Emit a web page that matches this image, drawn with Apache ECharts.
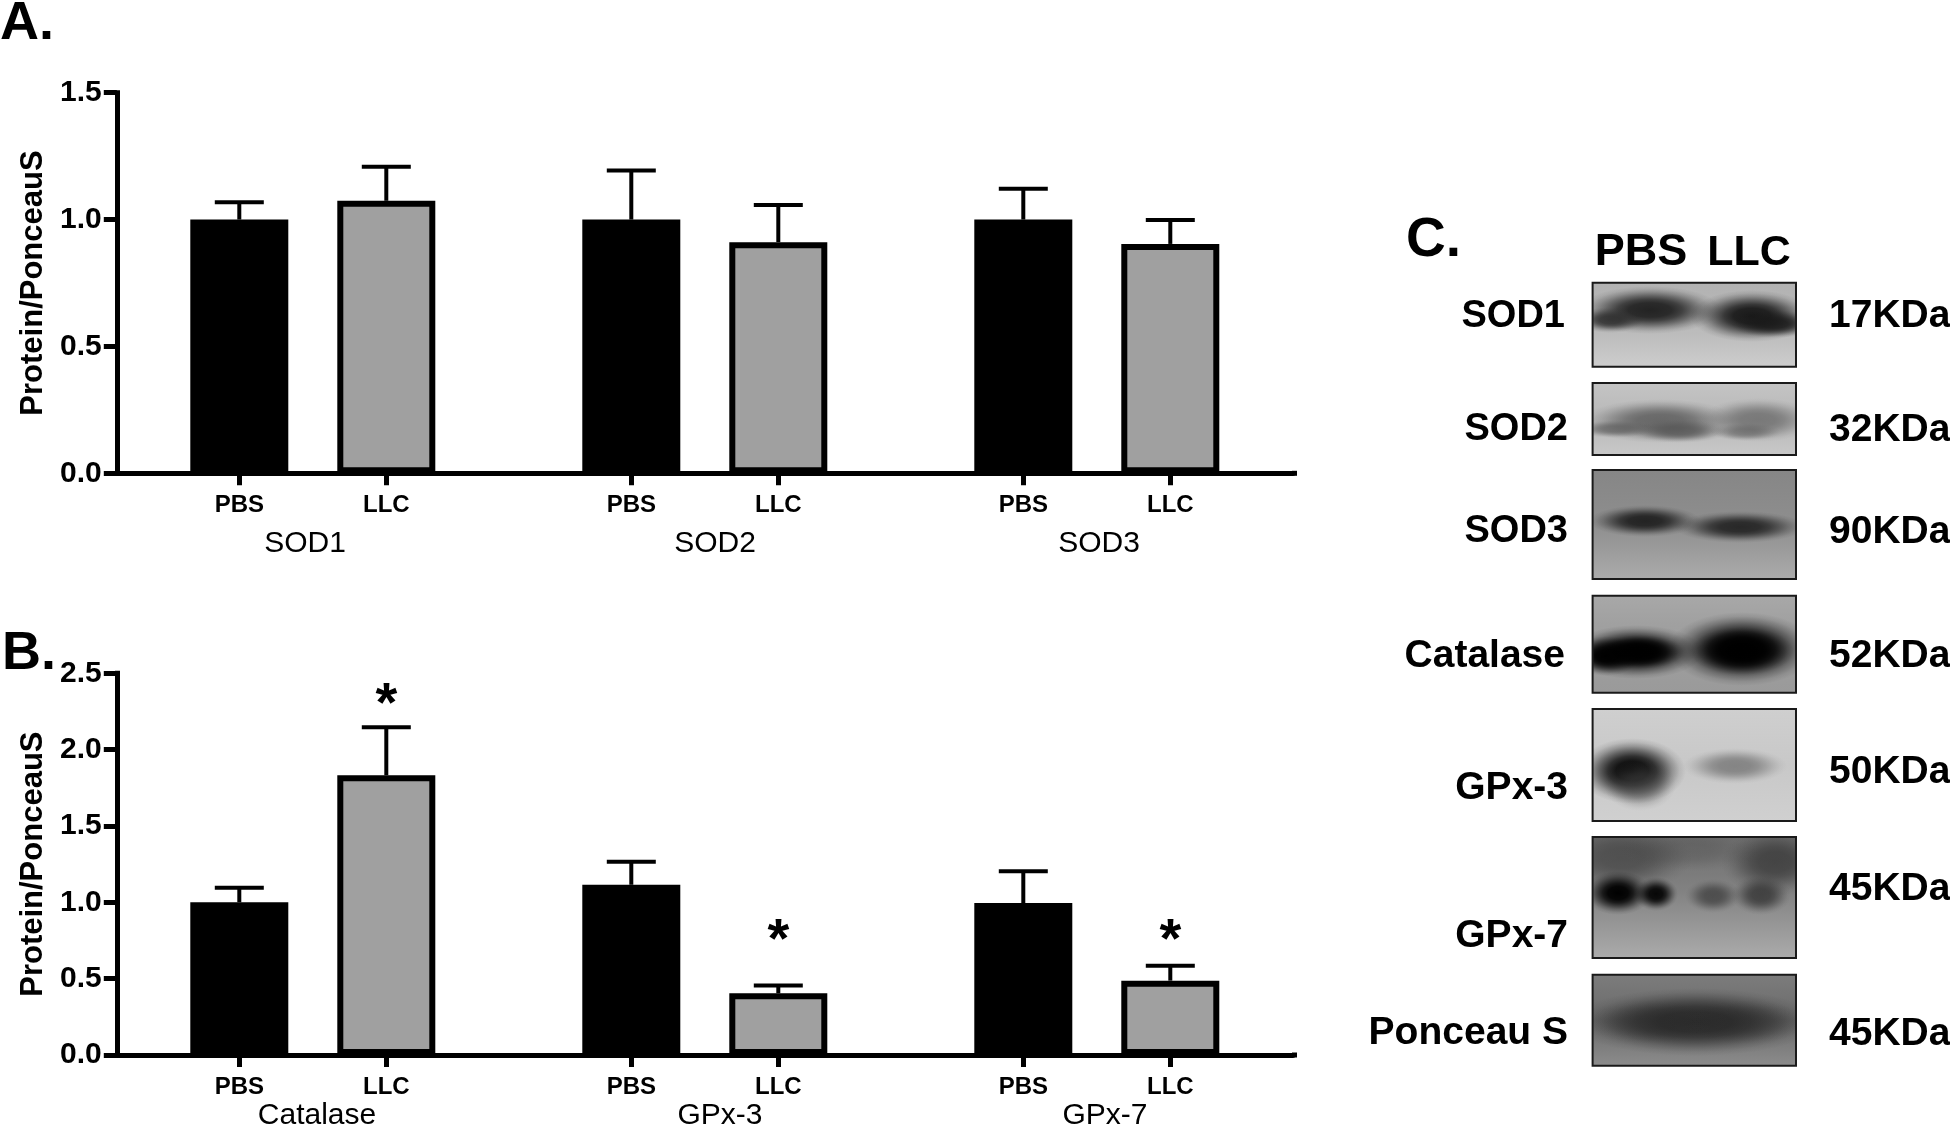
<!DOCTYPE html>
<html><head><meta charset="utf-8">
<style>html,body{margin:0;padding:0;background:#fff}#c{width:1950px;height:1125px}</style>
<script src="https://cdn.jsdelivr.net/npm/echarts@6/dist/echarts.min.js"></script>
</head><body><div id="c"></div>
<script>
// ---- data ----
var categories = ['','','PBS','','','LLC','','','','','PBS','','','LLC','','','','','PBS','','','LLC','',''];
var yTicksA = ['0.0','0.5','1.0','1.5'];
var yTicksB = ['0.0','0.5','1.0','1.5','2.0','2.5'];
var groupsA = ['SOD1','SOD2','SOD3'];
var groupsB = ['Catalase','GPx-3','GPx-7'];
var meansA_PBS = [1.0, 1.0, 1.0];
var upperA_PBS = [1.068, 1.193, 1.121];
var meansA_LLC = [1.074, 0.911, 0.904];
var upperA_LLC = [1.208, 1.057, 0.998];
var meansB_PBS = [1.0, 1.115, 0.995];
var upperB_PBS = [1.095, 1.266, 1.203];
var meansB_LLC = [1.832, 0.404, 0.487];
var upperB_LLC = [2.146, 0.456, 0.585];
var starsB_LLC = [2.29, 0.74, 0.74];
var blotLabels = ['SOD1','SOD2','SOD3','Catalase','GPx-3','GPx-7','Ponceau S'];
var blotSizes = ['17KDa','32KDa','90KDa','52KDa','50KDa','45KDa','45KDa'];

// ---- helpers ----
var FONT = '"Liberation Sans", Arial, sans-serif';
function slots(name){var r=[];categories.forEach(function(c,i){if(c===name)r.push(i)});return r;}
function column(name,vals){var r=categories.map(function(){return null});slots(name).forEach(function(s,i){r[s]=vals[i]});return r;}
function errData(name,m,u){return slots(name).map(function(s,i){return [s,m[i],u[i]]});}
function errRender(params,api){
  var p0=api.coord([api.value(0),api.value(1)]),p1=api.coord([api.value(0),api.value(2)]);
  return {type:'group',children:[
    {type:'line',shape:{x1:p0[0],y1:p0[1],x2:p0[0],y2:p1[1]},style:{stroke:'#000',lineWidth:4}},
    {type:'line',shape:{x1:p0[0]-24.5,y1:p1[1],x2:p0[0]+24.5,y2:p1[1]},style:{stroke:'#000',lineWidth:4}}
  ]};
}
function starRender(params,api){
  var p=api.coord([api.value(0),api.value(1)]);
  return {type:'text',style:{x:p[0],y:p[1],text:'*',font:'bold 56px '+FONT,fill:'#000',textAlign:'center',textVerticalAlign:'middle'}};
}
function xAx(g){return {type:'category',gridIndex:g,data:categories,z:3,
  axisLine:{show:true,onZero:false,lineStyle:{color:'#000',width:5}},
  axisTick:{show:true,alignWithLabel:true,length:12,lineStyle:{color:'#000',width:5},interval:function(i,v){return v!==''}},
  axisLabel:{show:true,interval:function(i,v){return v!==''},margin:20,fontFamily:FONT,fontWeight:'bold',fontSize:24,color:'#000'},
  splitLine:{show:false}};}
function yAx(g,max,ticks){return {type:'value',gridIndex:g,min:0,max:max,interval:0.5,z:3,
  axisLine:{show:true,lineStyle:{color:'#000',width:5,cap:'square'}},
  axisTick:{show:true,length:13,lineStyle:{color:'#000',width:5}},
  axisLabel:{margin:15,fontFamily:FONT,fontWeight:'bold',fontSize:30,color:'#000',formatter:function(v){return ticks[Math.round(v/0.5)]}},
  splitLine:{show:false},
  name:'Protein/PonceauS',nameLocation:'middle',nameGap:61,
  nameTextStyle:{fontFamily:FONT,fontWeight:'bold',fontSize:31,color:'#000'}};}
function panel(g,mP,uP,mL,uL){
  return [
   {name:'PBS',type:'bar',xAxisIndex:g,yAxisIndex:g,data:column('PBS',mP),barWidth:98,barGap:'-100%',z:2,itemStyle:{color:'#000'}},
   {name:'LLC',type:'bar',xAxisIndex:g,yAxisIndex:g,data:column('LLC',mL),barWidth:98,barGap:'-100%',z:2,itemStyle:{color:'#a0a0a0',borderColor:'#000',borderWidth:6}},
   {type:'custom',xAxisIndex:g,yAxisIndex:g,renderItem:errRender,data:errData('PBS',mP,uP),z:1,encode:{x:0,y:[1,2]}},
   {type:'custom',xAxisIndex:g,yAxisIndex:g,renderItem:errRender,data:errData('LLC',mL,uL),z:1,encode:{x:0,y:[1,2]}}
  ];
}
var series=panel(0,meansA_PBS,upperA_PBS,meansA_LLC,upperA_LLC).concat(panel(1,meansB_PBS,upperB_PBS,meansB_LLC,upperB_LLC));
series.push({type:'custom',xAxisIndex:1,yAxisIndex:1,renderItem:starRender,z:4,
  data:slots('LLC').map(function(s,i){return [s,starsB_LLC[i]]}),encode:{x:0,y:1}});

// ---- graphic layer: text and the western-blot panel ----
var g=[];
function txt(x,y,t,font,align){g.push({type:'text',z:20,style:{x:x,y:y,text:t,font:font,fill:'#000',textAlign:align||'left',textVerticalAlign:'middle'}});}
g.push({type:'rect',z:20,shape:{x:1292,y:470.8,width:5,height:5},style:{fill:'#000'}});
g.push({type:'rect',z:20,shape:{x:1292,y:1052.5,width:5,height:5},style:{fill:'#000'}});
var grpXA=[305,715,1099],grpXB=[317,720,1105];
groupsA.forEach(function(t,i){txt(grpXA[i],544,t,'30px '+FONT,'center')});
groupsB.forEach(function(t,i){txt(grpXB[i],1116,t,'30px '+FONT,'center')});
txt(0,24,'A.','bold 54px '+FONT);
txt(2,654,'B.','bold 54px '+FONT);
txt(1406,241,'C.','bold 55px '+FONT);
txt(1641,253,'PBS','bold 45px '+FONT,'center');
txt(1749,253,'LLC','bold 43px '+FONT,'center');

var BX=1592.6,BW=203.4;
var frames=[[282.7,366.7],[383,455],[470,579],[595.7,692.7],[709,821],[837,958],[974.7,1065.7]];
var bgs=[[[0,'#b2b2b2'],[0.6,'#bcbcbc'],[1,'#cdcdcd']],
         [[0,'#c4c4c4'],[0.5,'#b8b8b8'],[1,'#c8c8c8']],
         [[0,'#868686'],[0.5,'#8e8e8e'],[1,'#ababab']],
         [[0,'#a8a8a8'],[0.3,'#a0a0a0'],[1,'#9a9a9a']],
         [[0,'#cfcfcf'],[0.5,'#c8c8c8'],[1,'#d0d0d0']],
         [[0,'#6e6e6e'],[0.45,'#828282'],[1,'#ababab']],
         [[0,'#7c7c7c'],[0.5,'#6a6a6a'],[1,'#8c8c8c']]];
// [cx, cy, rx, ry, colour rgb, alpha]
var bands=[
 [[1650,310,72,24,'35,35,35',1],[1610,320,34,13,'45,45,45',0.9],[1752,316,62,26,'25,25,25',1],[1775,324,44,14,'25,25,25',0.9]],
 [[1660,421,78,22,'90,90,90',0.85],[1680,431,48,12,'85,85,85',0.8],[1615,429,40,9,'90,90,90',0.7],[1758,420,58,22,'105,105,105',0.8],[1745,432,36,9,'95,95,95',0.6]],
 [[1645,521,56,16,'35,35,35',1],[1740,527,66,16,'40,40,40',1]],
 [[1636,652,68,27,'0,0,0',1],[1742,649,74,37,'0,0,0',1],[1606,656,34,20,'0,0,0',1],[1640,652,44,17,'0,0,0',1],[1742,651,52,24,'0,0,0',1]],
 [[1632,771,54,33,'10,10,10',1],[1640,785,36,26,'70,70,70',0.55],[1735,766,52,18,'125,125,125',0.9]],
 [[1622,858,70,34,'50,50,50',0.55],[1775,862,54,34,'35,35,35',0.6],[1690,850,70,22,'60,60,60',0.25],
  [1618,893,34,22,'0,0,0',1],[1656,894,22,17,'0,0,0',0.95],[1713,896,28,17,'60,60,60',0.75],[1761,895,30,20,'50,50,50',0.8]],
 [[1695,1022,125,34,'40,40,40',0.95],[1650,1022,60,22,'40,40,40',0.3],[1745,1022,60,22,'40,40,40',0.3]]
];
function blob(b){
  var rgb=b[4],a=b[5];
  function s(o,f){return {offset:o,color:'rgba('+rgb+','+(a*f)+')'};}
  return {type:'circle',z:6,x:b[0],y:b[1],scaleX:b[2]/b[3],scaleY:1,shape:{cx:0,cy:0,r:b[3]},
    style:{fill:{type:'radial',x:0.5,y:0.5,r:0.5,colorStops:[s(0,1),s(0.3,0.95),s(0.45,0.8),s(0.6,0.55),s(0.75,0.28),s(0.88,0.09),s(1,0)]}}};
}
frames.forEach(function(f,i){
  g.push({type:'rect',z:5,shape:{x:BX,y:f[0],width:BW,height:f[1]-f[0]},
    style:{fill:{type:'linear',x:0,y:0,x2:0,y2:1,colorStops:bgs[i].map(function(c){return {offset:c[0],color:c[1]}})}}});
  bands[i].forEach(function(b){g.push(blob(b))});
});
// white masks keep the soft bands inside their frames
g.push({type:'rect',z:7,shape:{x:1520,y:270,width:BX-1520,height:810},style:{fill:'#fff'}});
g.push({type:'rect',z:7,shape:{x:BX+BW,y:270,width:60,height:810},style:{fill:'#fff'}});
for(var i=0;i<frames.length-1;i++){
  g.push({type:'rect',z:7,shape:{x:BX,y:frames[i][1],width:BW,height:frames[i+1][0]-frames[i][1]},style:{fill:'#fff'}});
}
frames.forEach(function(f){
  g.push({type:'rect',z:8,shape:{x:BX,y:f[0],width:BW,height:f[1]-f[0]},style:{fill:'none',stroke:'#1a1a1a',lineWidth:2}});
});
var labelY=[317,430,532,656,788,936,1033],sizeY=[316,430,532,656,772,889,1034],labelX=[1565,1568,1568,1565,1568,1568,1568],labelSize=[38,38,38,39,39,39,39];
blotLabels.forEach(function(t,i){txt(labelX[i],labelY[i],t,'bold '+labelSize[i]+'px '+FONT,'right')});
blotSizes.forEach(function(t,i){txt(1829,sizeY[i],t,'bold 39px '+FONT,'left')});

var chart=echarts.init(document.getElementById('c'),null,{renderer:'canvas'});
chart.setOption({
  animation:false,backgroundColor:'#fff',
  grid:[{left:116.8,top:92.7,width:1176,height:380.6},{left:116.8,top:673.3,width:1176,height:381.7}],
  xAxis:[xAx(0),xAx(1)],
  yAxis:[yAx(0,1.5,yTicksA),yAx(1,2.5,yTicksB)],
  series:series,
  graphic:{elements:g}
});
</script></body></html>
